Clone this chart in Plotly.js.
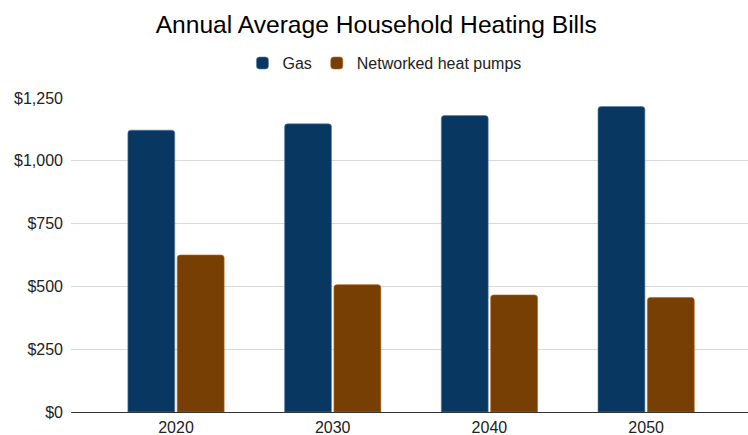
<!DOCTYPE html>
<html>
<head>
<meta charset="utf-8">
<script src="https://cdn.plot.ly/plotly-3.0.1.min.js"></script>
<style>html,body{margin:0;padding:0;background:#fff;}#chart{width:748px;height:435px;}</style>
</head>
<body>
<div id="chart"></div>
<script>
const years = ["2020", "2030", "2040", "2050"];
const gasBills = [1122, 1147, 1180, 1216];
const heatPumpBills = [625, 507, 466, 456];
const yTickVals = [0, 250, 500, 750, 1000, 1250];
const yTickText = ["$0", "$250", "$500", "$750", "$1,000", "$1,250"];

const font = "Liberation Sans, Arial, sans-serif";

const traces = [
  {
    type: "bar", name: "Gas", x: years, y: gasBills,
    marker: {color: "#083762", cornerradius: 3, line: {color: "#5a7fa3", width: 0.6}},
    hoverinfo: "none"
  },
  {
    type: "bar", name: "Networked heat pumps", x: years, y: heatPumpBills,
    marker: {color: "#783f04", cornerradius: 3, line: {color: "#b8651a", width: 0.6}},
    hoverinfo: "none"
  }
];

const layout = {
  width: 748, height: 435,
  paper_bgcolor: "#fff", plot_bgcolor: "#fff",
  margin: {l: 71, r: 0, t: 98, b: 23},
  font: {family: font, color: "#222"},
  title: {text: "Annual Average Household Heating Bills", font: {family: font, size: 24.6, color: "#000"},
          x: 0.503, xanchor: "center", xref: "container", y: 1 - 24/435, yanchor: "middle", yref: "container"},
  showlegend: true,
  legend: {orientation: "h", x: 0.463, xanchor: "center", y: 1.111, yanchor: "middle",
           font: {family: font, size: 16, color: "#222"}, itemwidth: 30, traceorder: "normal"},
  barmode: "group", bargap: 0.37, bargroupgap: 0.05,
  xaxis: {type: "category", range: [-0.67, 3.65], showgrid: false, showline: true, linecolor: "#333", linewidth: 1,
          ticks: "", ticklabelstandoff: 1, tickfont: {family: font, size: 16, color: "#222"}, zeroline: false, fixedrange: true},
  yaxis: {range: [0, 1250], tickvals: yTickVals, ticktext: yTickText, showgrid: true, gridcolor: "#d9d9d9", gridwidth: 1,
          zeroline: false, showline: false, ticks: "", ticklabelstandoff: 7,
          tickfont: {family: font, size: 16, color: "#222"}, fixedrange: true}
};

Plotly.newPlot("chart", traces, layout, {displayModeBar: false, staticPlot: true});
</script>
</body>
</html>
